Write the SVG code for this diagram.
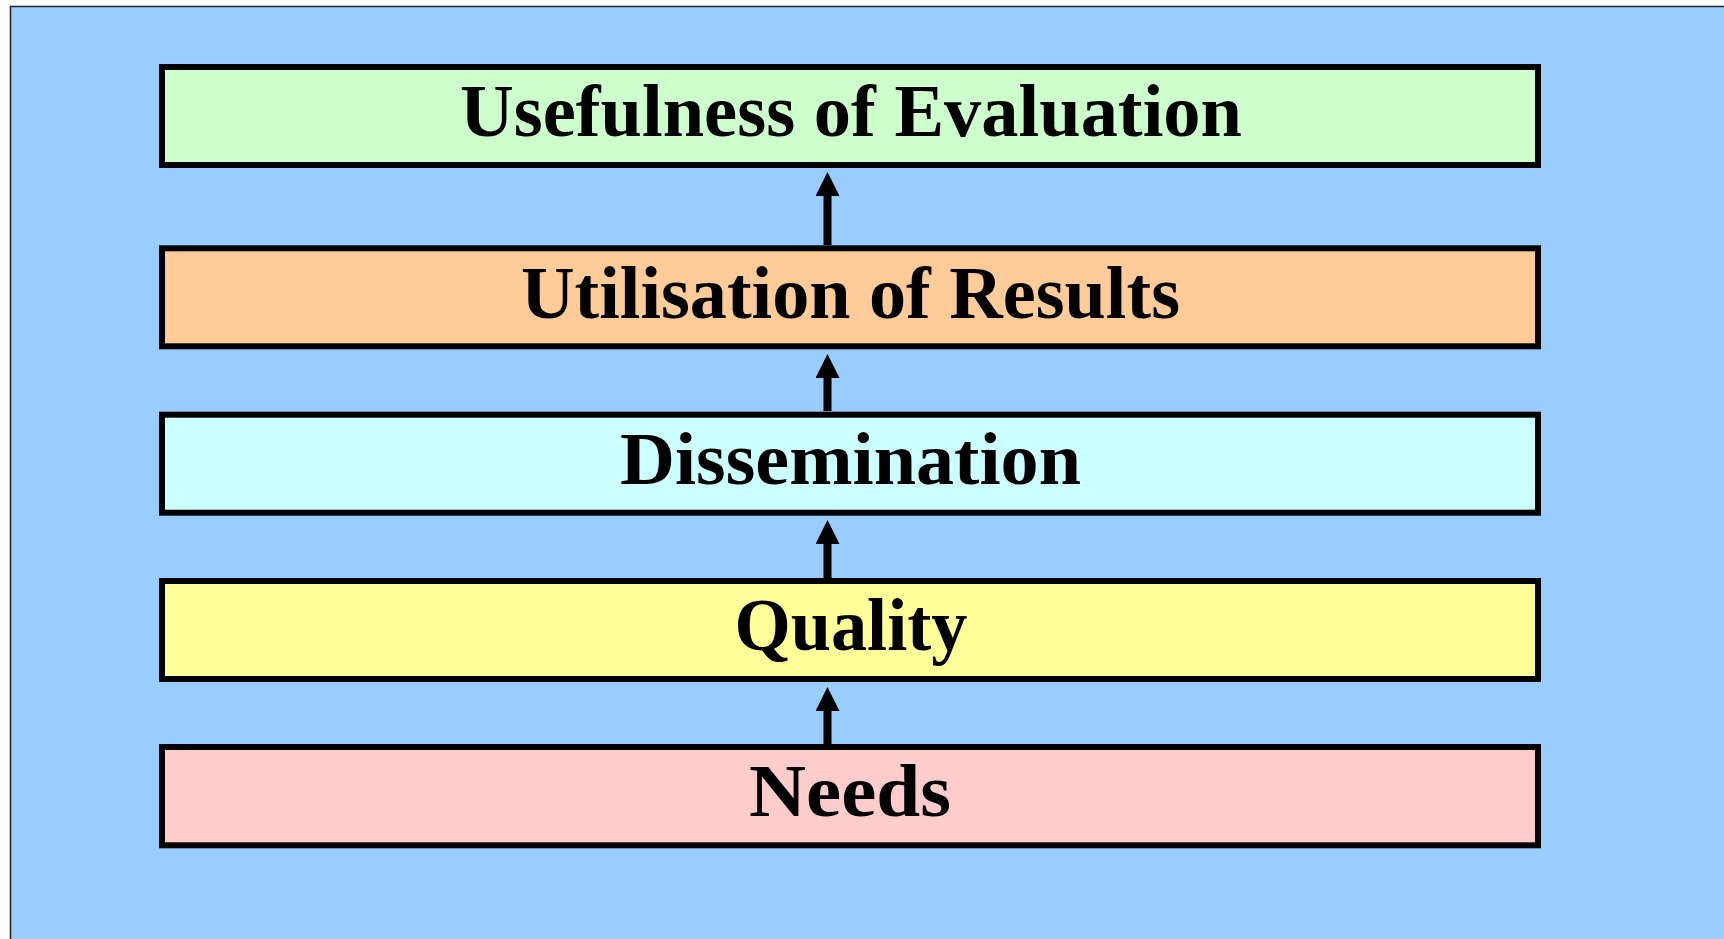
<svg xmlns="http://www.w3.org/2000/svg" width="1724" height="939" viewBox="0 0 1724 939">
<style>
.box{stroke:#000;stroke-width:6}
.lbl{font-family:"Liberation Serif","Times New Roman",serif;font-weight:bold;font-size:74px;fill:#000;text-anchor:middle}
.conn{stroke:#000;stroke-width:8;fill:none}
</style>
<defs>
<marker id="ah" markerUnits="userSpaceOnUse" markerWidth="24" markerHeight="24" refX="0" refY="12" orient="auto" viewBox="0 0 24 24">
<path d="M0,0 L24,12 L0,24 Z" fill="#000"/>
</marker>
</defs>
<rect x="0" y="0" width="1724" height="939" fill="#fff"/>
<rect x="10.5" y="6.5" width="1730" height="950" fill="#99CCFF" stroke="#222" stroke-width="1.5"/>
<g id="connectors">
<line class="conn" x1="827.5" y1="245" x2="827.5" y2="196" marker-end="url(#ah)"/>
<line class="conn" x1="827.5" y1="411" x2="827.5" y2="378" marker-end="url(#ah)"/>
<line class="conn" x1="827.5" y1="578" x2="827.5" y2="544" marker-end="url(#ah)"/>
<line class="conn" x1="827.5" y1="744" x2="827.5" y2="711" marker-end="url(#ah)"/>
</g>
<g id="usefulness">
<rect class="box" x="162" y="67" width="1376" height="98" fill="#CCFFCC"/>
<text class="lbl" x="851" y="136" textLength="782" lengthAdjust="spacingAndGlyphs">Usefulness of Evaluation</text>
</g>
<g id="utilisation">
<rect class="box" x="162" y="248.3" width="1376" height="98" fill="#FFCC99"/>
<text class="lbl" x="850.5" y="317.5" textLength="659" lengthAdjust="spacingAndGlyphs">Utilisation of Results</text>
</g>
<g id="dissemination">
<rect class="box" x="162" y="414.7" width="1376" height="98" fill="#CCFFFF"/>
<text class="lbl" x="850.5" y="484" textLength="461" lengthAdjust="spacingAndGlyphs">Dissemination</text>
</g>
<g id="quality">
<rect class="box" x="162" y="581" width="1376" height="98" fill="#FFFF99"/>
<text class="lbl" x="851" y="650" textLength="233" lengthAdjust="spacingAndGlyphs">Quality</text>
</g>
<g id="needs">
<rect class="box" x="162" y="747" width="1376" height="98.3" fill="#FFCCCC"/>
<text class="lbl" x="850" y="816" textLength="202" lengthAdjust="spacingAndGlyphs">Needs</text>
</g>
</svg>
